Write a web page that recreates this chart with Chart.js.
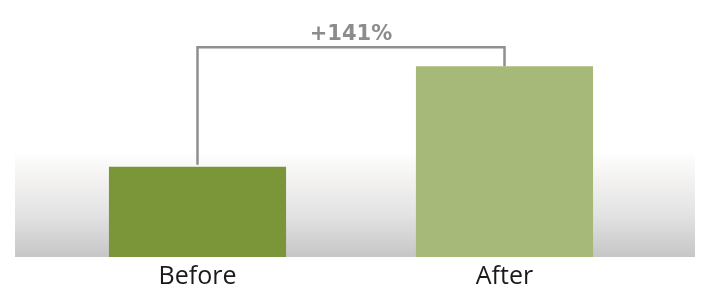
<!DOCTYPE html>
<html>
<head>
<meta charset="utf-8">
<script src="https://cdn.jsdelivr.net/npm/chart.js@4.4.1/dist/chart.umd.min.js"></script>
<style>
    html, body { margin: 0; padding: 0; background: #fff; }
    #wrap { width: 713px; height: 295px; }
</style>
</head>
<body>
<div id="wrap"><canvas id="chart"></canvas></div>
<script>
// DATEN
const categories = ['Before', 'After'];
const values = [90, 190];
const barColors = ['#7b9639', '#a7b978'];
const changeLabel = '+141%';

// Hintergrund-Band mit Verlauf
const bandPlugin = {
    id: 'band',
    beforeDatasetsDraw(chart) {
        const ctx = chart.ctx;
        const area = chart.chartArea;
        const top = area.bottom - 106;
        const grad = ctx.createLinearGradient(0, top, 0, area.bottom);
        grad.addColorStop(0, 'rgba(255,255,255,1)');
        grad.addColorStop(0.25, '#f4f3f2');
        grad.addColorStop(0.6, '#e3e3e3');
        grad.addColorStop(1, '#c6c6c6');
        ctx.save();
        ctx.fillStyle = grad;
        ctx.fillRect(15, top, chart.width - 33, area.bottom - top);
        ctx.restore();
    }
};

// Klammer mit Prozentangabe
const bracketPlugin = {
    id: 'bracket',
    afterDatasetsDraw(chart) {
        const bars = chart.getDatasetMeta(0).data;
        const a = bars[0], b = bars[1];
        const lineY = Math.min(a.y, b.y) - 19;
        const ctx = chart.ctx;
        ctx.save();
        ctx.strokeStyle = '#8f8f8f';
        ctx.lineWidth = 2.5;
        ctx.beginPath();
        ctx.moveTo(a.x, a.y - 2);
        ctx.lineTo(a.x, lineY);
        ctx.lineTo(b.x, lineY);
        ctx.lineTo(b.x, b.y);
        ctx.stroke();
        ctx.fillStyle = '#8c8c8c';
        ctx.font = 'bold 21px "DejaVu Sans"';
        ctx.textAlign = 'center';
        ctx.textBaseline = 'alphabetic';
        ctx.fillText(changeLabel, (a.x + b.x) / 2, lineY - 7);
        ctx.restore();
    }
};

new Chart(document.getElementById('chart'), {
    type: 'bar',
    data: {
        labels: categories,
        datasets: [{
            data: values,
            backgroundColor: barColors,
            categoryPercentage: 1,
            barPercentage: 0.577
        }]
    },
    options: {
        responsive: true,
        maintainAspectRatio: false,
        animation: false,
        layout: {
            padding: { left: 44, right: 55, top: 6, bottom: -2 }
        },
        plugins: {
            legend: { display: false },
            tooltip: { enabled: false }
        },
        scales: {
            x: {
                grid: { display: false, drawTicks: false },
                border: { display: false },
                ticks: {
                    color: '#1a1a1a',
                    padding: 5,
                    font: { family: '"Open Sans"', size: 25 }
                }
            },
            y: {
                display: false,
                min: 0,
                max: 250
            }
        }
    },
    plugins: [bandPlugin, bracketPlugin]
});
</script>
</body>
</html>
